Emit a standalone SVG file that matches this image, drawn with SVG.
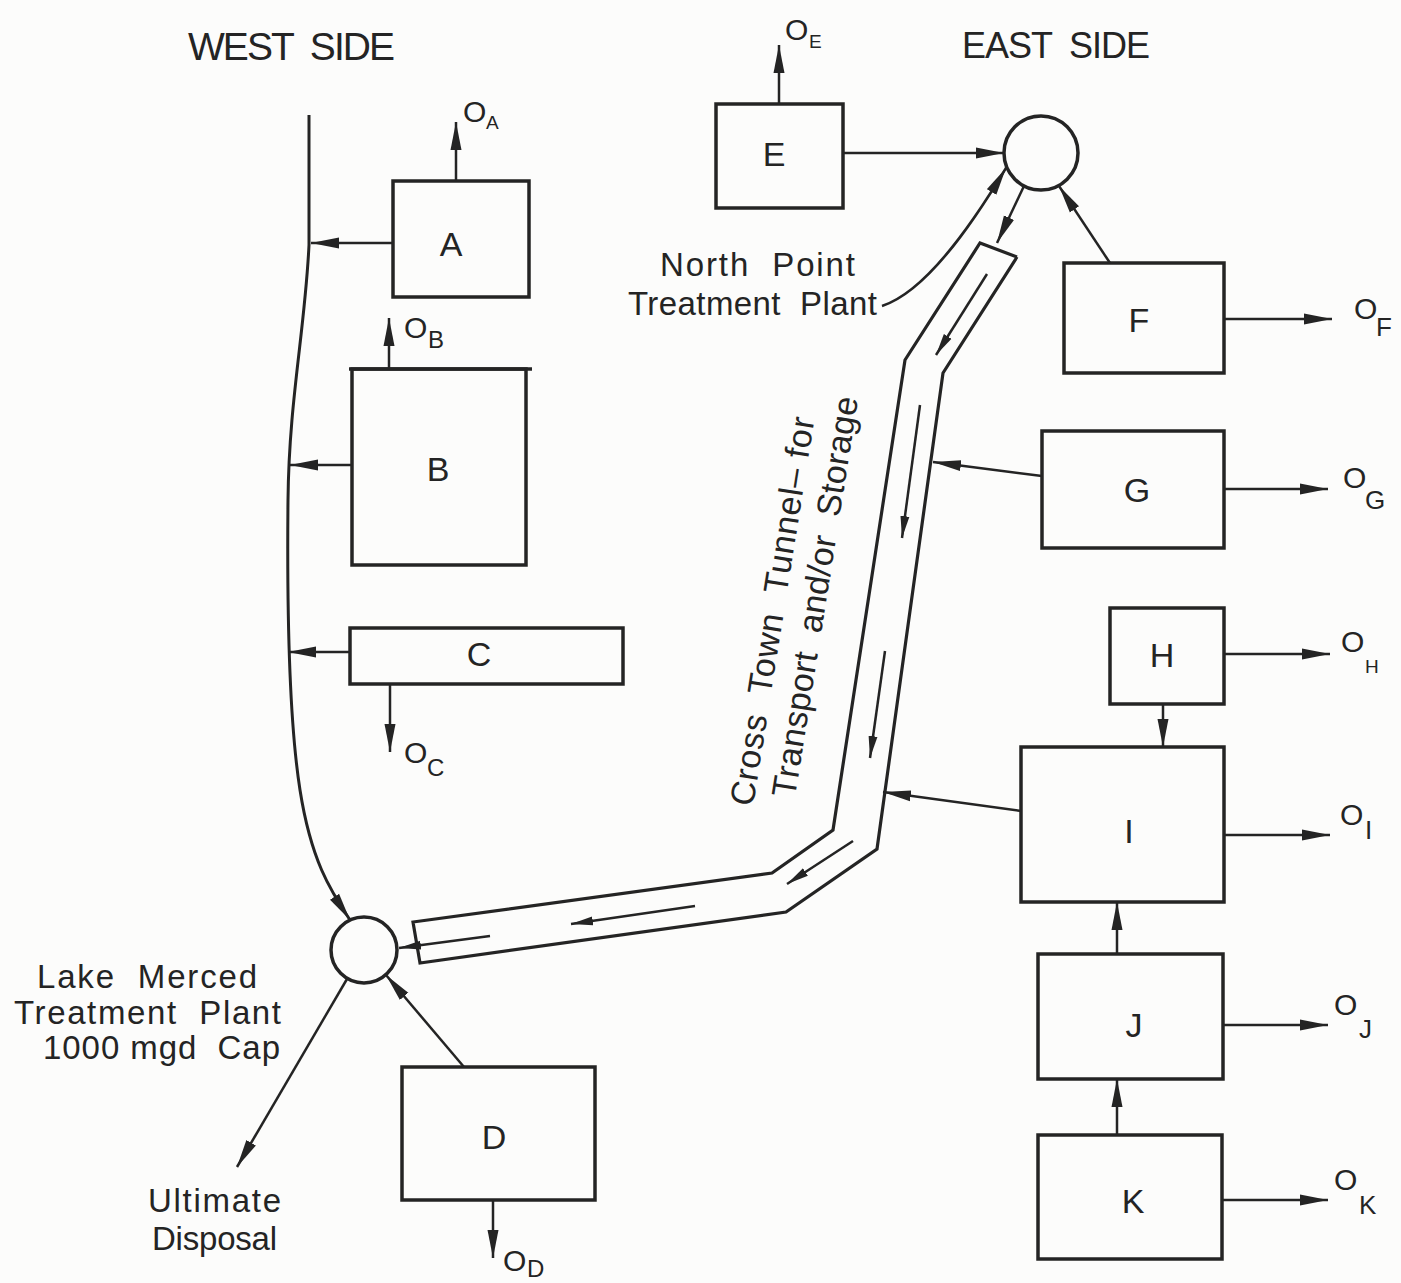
<svg xmlns="http://www.w3.org/2000/svg" width="1401" height="1283" viewBox="0 0 1401 1283" xml:space="preserve">
<defs>
<style>
.box{fill:none;stroke:#242424;stroke-width:3.5}
.ln{fill:none;stroke:#242424;stroke-width:2.5}
.wall{fill:none;stroke:#242424;stroke-width:3.2;stroke-linejoin:miter}
.arr{marker-end:url(#ah)}
.sarr{marker-end:url(#sh)}
text{font-family:"Liberation Sans","DejaVu Sans",sans-serif;fill:#242424;white-space:pre}
.lbl{font-size:34px;text-anchor:middle}
.o{font-size:30px}
.sub{font-size:24px}
.bsub{font-size:26px}
.ssub{font-size:19px}
.cap{font-size:33px}
</style>
<marker id="ah" markerUnits="userSpaceOnUse" viewBox="0 0 28 12" markerWidth="28" markerHeight="12" refX="28" refY="6" orient="auto"><path d="M0,0.5 L28,6 L0,11.5 Z" fill="#242424"/></marker>
<marker id="sh" markerUnits="userSpaceOnUse" viewBox="0 0 22 10" markerWidth="22" markerHeight="10" refX="22" refY="5" orient="auto"><path d="M0,0.5 L22,5 L0,9.5 Z" fill="#242424"/></marker>
</defs>
<rect x="0" y="0" width="1401" height="1283" fill="#fcfcfb"/>
<g id="titles"><text x="188" y="60" font-size="39" textLength="207" lengthAdjust="spacing">WEST  SIDE</text><text x="962" y="58" font-size="36" textLength="188" lengthAdjust="spacing">EAST  SIDE</text></g>
<g id="connectors">
<path class="ln arr" d="M309,115 L309,245 C305,330 289,400 288,500 S289,720 300,790 S330,890 350,920" style="stroke-width:3"/>
<line class="ln arr" x1="393" y1="243" x2="311" y2="243"/>
<line class="ln arr" x1="352" y1="465" x2="290" y2="465"/>
<line class="ln arr" x1="350" y1="652" x2="288" y2="652"/>
<line class="ln arr" x1="456" y1="181" x2="456" y2="122"/>
<line class="ln arr" x1="389" y1="368" x2="389" y2="318"/>
<line class="ln arr" x1="390" y1="684" x2="390" y2="752"/>
<line class="ln arr" x1="779" y1="104" x2="779" y2="45"/>
<line class="ln arr" x1="843" y1="153" x2="1004" y2="153"/>
<line class="ln arr" x1="1110" y1="263" x2="1059" y2="186"/>
<path class="ln arr" d="M882,306 C925,292 970,228 1006,168"/>
<line class="ln arr" x1="1024" y1="186" x2="997" y2="243"/>
<line class="ln arr" x1="1042" y1="476" x2="933" y2="462"/>
<line class="ln arr" x1="1021" y1="811" x2="883" y2="792"/>
<line class="ln arr" x1="1224" y1="319" x2="1332" y2="319"/>
<line class="ln arr" x1="1224" y1="489" x2="1328" y2="489"/>
<line class="ln arr" x1="1224" y1="654" x2="1330" y2="654"/>
<line class="ln arr" x1="1163" y1="704" x2="1163" y2="747"/>
<line class="ln arr" x1="1224" y1="835" x2="1330" y2="835"/>
<line class="ln arr" x1="1117" y1="954" x2="1117" y2="902"/>
<line class="ln arr" x1="1223" y1="1025" x2="1328" y2="1025"/>
<line class="ln arr" x1="1117" y1="1135" x2="1117" y2="1079"/>
<line class="ln arr" x1="1222" y1="1200" x2="1328" y2="1200"/>
<line class="ln arr" x1="464" y1="1067" x2="386" y2="975"/>
<line class="ln arr" x1="493" y1="1200" x2="493" y2="1258"/>
<line class="ln arr" x1="347" y1="979" x2="237" y2="1167"/>
<line class="ln sarr" x1="987" y1="274" x2="936" y2="355"/>
<line class="ln sarr" x1="920" y1="405" x2="902" y2="538"/>
<line class="ln sarr" x1="885" y1="651" x2="870" y2="758"/>
<line class="ln sarr" x1="853" y1="841" x2="787" y2="884"/>
<line class="ln sarr" x1="695" y1="906" x2="571" y2="924"/>
<line class="ln sarr" x1="490" y1="936" x2="399" y2="948"/>
</g>
<g id="tunnel">
<polyline class="wall" points="1017,257 980,243 905,360 833,830 772,873 413,922 420,963 786,912 877,849 943,373 1017,257"/>
<g transform="translate(753,807) rotate(-81)"><text x="0" y="0" font-size="34" textLength="393" lengthAdjust="spacing">Cross  Town  Tunnel– for</text><text x="15" y="40" font-size="34" textLength="405" lengthAdjust="spacing">Transport  and/or  Storage</text></g>
</g>
<g id="node-A"><rect class="box" x="393" y="181" width="136" height="116"/><text class="lbl" x="451" y="256">A</text></g>
<g id="node-B"><rect class="box" x="352" y="369" width="174" height="196"/><line class="box" x1="349" y1="369" x2="532" y2="369"/><text class="lbl" x="438" y="481">B</text></g>
<g id="node-C"><rect class="box" x="350" y="628" width="273" height="56"/><text class="lbl" x="479" y="666">C</text></g>
<g id="node-D"><rect class="box" x="402" y="1067" width="193" height="133"/><text class="lbl" x="494" y="1149">D</text></g>
<g id="node-E"><rect class="box" x="716" y="104" width="127" height="104"/><text class="lbl" x="774" y="166">E</text></g>
<g id="node-F"><rect class="box" x="1064" y="263" width="160" height="110"/><text class="lbl" x="1139" y="332">F</text></g>
<g id="node-G"><rect class="box" x="1042" y="431" width="182" height="117"/><text class="lbl" x="1137" y="502">G</text></g>
<g id="node-H"><rect class="box" x="1110" y="608" width="114" height="96"/><text class="lbl" x="1162" y="667">H</text></g>
<g id="node-I"><rect class="box" x="1021" y="747" width="203" height="155"/><text class="lbl" x="1129" y="843">I</text></g>
<g id="node-J"><rect class="box" x="1038" y="954" width="185" height="125"/><text class="lbl" x="1134" y="1037">J</text></g>
<g id="node-K"><rect class="box" x="1038" y="1135" width="184" height="124"/><text class="lbl" x="1133" y="1213">K</text></g>
<g id="node-northpoint">
<circle class="box" cx="1041" cy="153" r="37"/>
<text class="cap" x="660" y="276" textLength="195" lengthAdjust="spacing">North  Point</text>
<text class="cap" x="628" y="315" textLength="249" lengthAdjust="spacing">Treatment  Plant</text>
</g>
<g id="node-lakemerced">
<circle class="box" cx="364" cy="950" r="33"/>
<text class="cap" x="37" y="988" textLength="220" lengthAdjust="spacing">Lake  Merced</text>
<text class="cap" x="14" y="1024" textLength="267" lengthAdjust="spacing">Treatment  Plant</text>
<text class="cap" x="43" y="1059" textLength="237" lengthAdjust="spacing">1000 mgd  Cap</text>
</g>
<g id="disposal">
<text class="cap" x="148" y="1212" textLength="133" lengthAdjust="spacing">Ultimate</text>
<text class="cap" x="152" y="1250" textLength="125" lengthAdjust="spacing">Disposal</text>
</g>
<g id="outflows">
<text class="o" x="463" y="122">O</text><text class="ssub" x="486" y="129">A</text>
<text class="o" x="404" y="338">O</text><text class="sub" x="428" y="348">B</text>
<text class="o" x="404" y="763">O</text><text class="sub" x="427" y="776">C</text>
<text class="o" x="503" y="1271">O</text><text class="sub" x="527" y="1277">D</text>
<text class="o" x="785" y="40">O</text><text class="ssub" x="809" y="48">E</text>
<text class="o" x="1354" y="319">O</text><text class="bsub" x="1376" y="336">F</text>
<text class="o" x="1343" y="488">O</text><text class="bsub" x="1365" y="509">G</text>
<text class="o" x="1341" y="652">O</text><text class="ssub" x="1365" y="673">H</text>
<text class="o" x="1340" y="825">O</text><text class="bsub" x="1365" y="839">I</text>
<text class="o" x="1334" y="1015">O</text><text class="bsub" x="1359" y="1038">J</text>
<text class="o" x="1334" y="1190">O</text><text class="bsub" x="1359" y="1214">K</text>
</g>
</svg>
